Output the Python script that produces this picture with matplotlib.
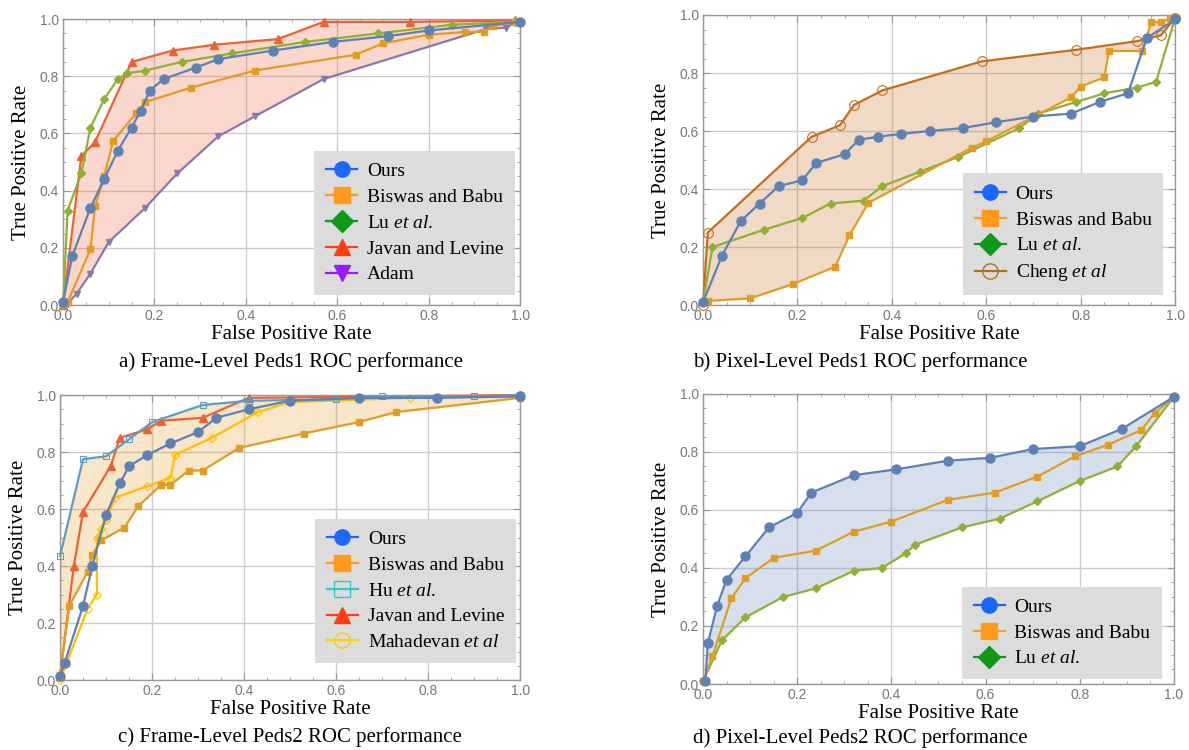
import numpy as np
import matplotlib
matplotlib.use("Agg")
import matplotlib.pyplot as plt
from matplotlib.lines import Line2D
from matplotlib.ticker import MultipleLocator, FormatStrFormatter

plt.rcParams["mathtext.fontset"] = "custom"
plt.rcParams["mathtext.rm"] = "Liberation Serif"
plt.rcParams["mathtext.it"] = "Liberation Serif:italic"

# ---- a) Frame-Level Peds1 ----
a_ours_x = [0.0, 0.02, 0.06, 0.09, 0.12, 0.15, 0.17, 0.19, 0.22, 0.29, 0.34, 0.46, 0.59, 0.71, 0.80, 1.0]
a_ours_y = [0.01, 0.17, 0.34, 0.44, 0.54, 0.62, 0.68, 0.75, 0.79, 0.83, 0.86, 0.89, 0.92, 0.94, 0.96, 0.99]
a_bis_x = [0.0, 0.01, 0.06, 0.07, 0.09, 0.11, 0.16, 0.18, 0.28, 0.42, 0.64, 0.70, 0.80, 0.88, 0.92, 0.94, 0.99]
a_bis_y = [0.01, 0.01, 0.195, 0.345, 0.45, 0.575, 0.67, 0.71, 0.76, 0.82, 0.875, 0.915, 0.945, 0.955, 0.955, 0.975, 0.99]
a_lu_x = [0.0, 0.01, 0.04, 0.06, 0.09, 0.12, 0.14, 0.18, 0.26, 0.37, 0.53, 0.69, 0.85, 0.99]
a_lu_y = [0.0, 0.33, 0.46, 0.62, 0.72, 0.79, 0.81, 0.82, 0.85, 0.88, 0.92, 0.95, 0.98, 0.99]
a_jav_x = [0.0, 0.04, 0.07, 0.15, 0.24, 0.33, 0.47, 0.57, 0.76, 0.99]
a_jav_y = [0.0, 0.52, 0.57, 0.85, 0.89, 0.91, 0.93, 0.99, 0.99, 0.995]
a_adam_x = [0.0, 0.01, 0.03, 0.06, 0.10, 0.18, 0.25, 0.34, 0.42, 0.57, 0.925, 0.97, 0.99]
a_adam_y = [0.0, 0.005, 0.04, 0.11, 0.22, 0.34, 0.46, 0.59, 0.66, 0.79, 0.965, 0.97, 0.99]

# ---- b) Pixel-Level Peds1 ----
b_ours_x = [0.0, 0.04, 0.08, 0.12, 0.16, 0.21, 0.24, 0.30, 0.33, 0.37, 0.42, 0.48, 0.55, 0.62, 0.70, 0.78, 0.84, 0.90, 0.94, 1.0]
b_ours_y = [0.01, 0.17, 0.29, 0.35, 0.41, 0.43, 0.49, 0.52, 0.57, 0.58, 0.59, 0.60, 0.61, 0.63, 0.65, 0.66, 0.70, 0.73, 0.92, 0.985]
b_bis_x = [0.0, 0.01, 0.10, 0.19, 0.28, 0.31, 0.35, 0.57, 0.60, 0.78, 0.80, 0.85, 0.86, 0.93, 0.95, 0.97, 0.99]
b_bis_y = [0.01, 0.014, 0.023, 0.072, 0.132, 0.24, 0.352, 0.543, 0.564, 0.716, 0.753, 0.785, 0.876, 0.876, 0.976, 0.976, 0.989]
b_lu_x = [0.0, 0.02, 0.13, 0.21, 0.27, 0.34, 0.38, 0.46, 0.54, 0.67, 0.71, 0.79, 0.85, 0.92, 0.96, 1.0]
b_lu_y = [0.01, 0.20, 0.26, 0.30, 0.35, 0.36, 0.41, 0.46, 0.51, 0.61, 0.66, 0.70, 0.73, 0.75, 0.77, 0.99]
b_cheng_x = [0.0, 0.01, 0.23, 0.29, 0.32, 0.38, 0.59, 0.79, 0.92, 0.97, 1.0]
b_cheng_y = [0.0, 0.25, 0.58, 0.62, 0.69, 0.74, 0.84, 0.88, 0.91, 0.93, 0.99]

# ---- c) Frame-Level Peds2 ----
c_ours_x = [0.0, 0.01, 0.05, 0.07, 0.10, 0.13, 0.15, 0.19, 0.24, 0.30, 0.34, 0.41, 0.50, 0.65, 0.82, 1.0]
c_ours_y = [0.015, 0.06, 0.26, 0.40, 0.58, 0.69, 0.75, 0.79, 0.83, 0.87, 0.92, 0.95, 0.98, 0.99, 0.99, 0.995]
c_bis_x = [0.0, 0.02, 0.06, 0.07, 0.09, 0.14, 0.17, 0.22, 0.24, 0.28, 0.31, 0.39, 0.53, 0.65, 0.73, 1.0]
c_bis_y = [0.015, 0.26, 0.38, 0.44, 0.49, 0.535, 0.61, 0.685, 0.685, 0.735, 0.735, 0.815, 0.865, 0.905, 0.94, 0.99]
c_hu_x = [0.0, 0.05, 0.10, 0.15, 0.20, 0.31, 0.41, 0.60, 0.70, 0.90, 1.0]
c_hu_y = [0.435, 0.775, 0.785, 0.845, 0.905, 0.965, 0.98, 0.985, 0.995, 0.995, 1.0]
c_jav_x = [0.0, 0.03, 0.05, 0.11, 0.13, 0.19, 0.22, 0.31, 0.41, 1.0]
c_jav_y = [0.015, 0.40, 0.59, 0.75, 0.85, 0.88, 0.91, 0.92, 0.99, 1.0]
c_mah_x = [0.0, 0.06, 0.08, 0.08, 0.09, 0.10, 0.12, 0.19, 0.24, 0.25, 0.33, 0.43, 0.50, 0.76, 1.0]
c_mah_y = [0.0, 0.25, 0.30, 0.50, 0.53, 0.56, 0.64, 0.68, 0.71, 0.79, 0.85, 0.94, 0.975, 0.99, 1.0]

# ---- d) Pixel-Level Peds2 ----
d_ours_x = [0.005, 0.01, 0.03, 0.05, 0.09, 0.14, 0.20, 0.23, 0.32, 0.41, 0.52, 0.61, 0.70, 0.80, 0.89, 1.0]
d_ours_y = [0.01, 0.14, 0.27, 0.36, 0.44, 0.54, 0.59, 0.66, 0.72, 0.74, 0.77, 0.78, 0.81, 0.82, 0.88, 0.99]
d_bis_x = [0.0, 0.02, 0.06, 0.09, 0.15, 0.24, 0.32, 0.40, 0.52, 0.62, 0.71, 0.79, 0.86, 0.93, 0.96, 1.0]
d_bis_y = [0.01, 0.095, 0.295, 0.365, 0.435, 0.46, 0.525, 0.56, 0.635, 0.66, 0.715, 0.785, 0.825, 0.875, 0.935, 0.99]
d_lu_x = [0.0, 0.04, 0.09, 0.17, 0.24, 0.32, 0.38, 0.43, 0.45, 0.55, 0.63, 0.71, 0.80, 0.88, 0.92, 1.0]
d_lu_y = [0.01, 0.15, 0.23, 0.30, 0.33, 0.39, 0.40, 0.45, 0.48, 0.54, 0.57, 0.63, 0.70, 0.75, 0.82, 0.99]

captions = ["a) Frame-Level Peds1 ROC performance", "b) Pixel-Level Peds1 ROC performance",
            "c) Frame-Level Peds2 ROC performance", "d) Pixel-Level Peds2 ROC performance"]

# line colours (plot) and bright colours (legend)
C_OURS, L_OURS = "#5e81b5", "#1a66ff"
C_BIS, L_BIS = "#e19c24", "#ff9a1a"
C_LU, L_LU = "#8fb032", "#11991a"
C_JAV, L_JAV = "#eb6235", "#ff3c12"
C_ADAM, L_ADAM = "#8778b3", "#9a1aff"
C_HU, L_HU = "#5d9ec7", "#33c8c8"
C_MAH, L_MAH = "#ffbf00", "#ffcc00"
C_CHE, L_CHE = "#c56e1a", "#a8741a"

SERIF = "Liberation Serif"

fig = plt.figure(figsize=(11.89, 7.5), dpi=100)


def make_axes(rect):
    ax = fig.add_axes(rect)
    ax.set_xlim(0, 1)
    ax.set_ylim(0, 1)
    ax.xaxis.set_major_locator(MultipleLocator(0.2))
    ax.yaxis.set_major_locator(MultipleLocator(0.2))
    ax.xaxis.set_minor_locator(MultipleLocator(0.05))
    ax.yaxis.set_minor_locator(MultipleLocator(0.05))
    ax.xaxis.set_major_formatter(FormatStrFormatter("%.1f"))
    ax.yaxis.set_major_formatter(FormatStrFormatter("%.1f"))
    ax.tick_params(which="both", direction="in", top=True, right=True, color="#999999",
                   labelcolor="#777777", labelsize=10, pad=3)
    ax.tick_params(which="major", length=5)
    ax.tick_params(which="minor", length=2.5)
    for lab in ax.get_xticklabels() + ax.get_yticklabels():
        lab.set_family("Liberation Sans")
    for s in ax.spines.values():
        s.set_color("#999999")
        s.set_linewidth(1)
    ax.grid(True, color="#cccccc", lw=1)
    ax.set_axisbelow(True)
    ax.set_xlabel("False Positive Rate", family=SERIF, fontsize=15, labelpad=1)
    ax.set_ylabel("True Positive Rate", family=SERIF, fontsize=15, labelpad=6)
    return ax


def curve(ax, x, y, color, marker, ms, open_marker=False):
    mfc = "none" if open_marker else color
    ax.plot(x, y, color=color, lw=1.6, marker=marker, markersize=ms, mfc=mfc,
            mec=color, mew=0.8 if open_marker else 1, clip_on=False, zorder=3)


def band(ax, xt, yt, xb, yb, color):
    ax.fill(np.concatenate([xt, xb[::-1]]), np.concatenate([yt, yb[::-1]]),
            color=color, alpha=0.25, lw=0, zorder=2)


def legend(ax, entries, anchor):
    handles = [Line2D([], [], color=c, marker=m, markersize=11, lw=1.6,
                      mfc="none" if op else c, mec=c, mew=1)
               for c, m, op, _ in entries]
    labels = [t for _, _, _, t in entries]
    lg = ax.legend(handles, labels, loc="lower right", bbox_to_anchor=anchor,
                   borderaxespad=0, frameon=True, fancybox=False, framealpha=1,
                   facecolor="#dcdcdc", edgecolor="none", handlelength=1.6,
                   handletextpad=0.5, labelspacing=0.42, borderpad=0.6,
                   prop={"family": SERIF, "size": 14})
    lg.set_zorder(5)


# a
ax = make_axes([0.053, 0.5933, 0.3844, 0.3813])
band(ax, a_jav_x, a_jav_y, a_adam_x, a_adam_y, C_JAV)
curve(ax, a_adam_x, a_adam_y, C_ADAM, "v", 5)
curve(ax, a_jav_x, a_jav_y, C_JAV, "^", 5.5)
curve(ax, a_lu_x, a_lu_y, C_LU, "D", 4)
curve(ax, a_bis_x, a_bis_y, C_BIS, "s", 4.5)
curve(ax, a_ours_x, a_ours_y, C_OURS, "o", 6.5)
legend(ax, [(L_OURS, "o", False, "Ours"), (L_BIS, "s", False, "Biswas and Babu"),
            (L_LU, "D", False, "Lu $\\it{et\\ al.}$"), (L_JAV, "^", False, "Javan and Levine"),
            (L_ADAM, "v", False, "Adam")], (0.989, 0.035))

# b
ax = make_axes([0.5913, 0.5933, 0.397, 0.3867])
band(ax, b_cheng_x, b_cheng_y, b_bis_x, b_bis_y, C_CHE)
curve(ax, b_cheng_x, b_cheng_y, C_CHE, "o", 7, open_marker=True)
curve(ax, b_lu_x, b_lu_y, C_LU, "D", 4)
curve(ax, b_bis_x, b_bis_y, C_BIS, "s", 4.5)
curve(ax, b_ours_x, b_ours_y, C_OURS, "o", 6.5)
legend(ax, [(L_OURS, "o", False, "Ours"), (L_BIS, "s", False, "Biswas and Babu"),
            (L_LU, "D", False, "Lu $\\it{et\\ al.}$"), (L_CHE, "o", True, "Cheng $\\it{et\\ al}$")],
       (0.975, 0.034))

# c
ax = make_axes([0.0505, 0.0933, 0.3869, 0.38])
band(ax, c_hu_x, c_hu_y, c_bis_x, c_bis_y, C_BIS)
curve(ax, c_mah_x, c_mah_y, C_MAH, "D", 4, open_marker=True)
curve(ax, c_jav_x, c_jav_y, C_JAV, "^", 5.5)
curve(ax, c_hu_x, c_hu_y, C_HU, "s", 5, open_marker=True)
curve(ax, c_bis_x, c_bis_y, C_BIS, "s", 4.5)
curve(ax, c_ours_x, c_ours_y, C_OURS, "o", 6.5)
legend(ax, [(L_OURS, "o", False, "Ours"), (L_BIS, "s", False, "Biswas and Babu"),
            (L_HU, "s", True, "Hu $\\it{et\\ al.}$"), (L_JAV, "^", False, "Javan and Levine"),
            (L_MAH, "o", True, "Mahadevan $\\it{et\\ al}$")], (0.991, 0.06))

# d
ax = make_axes([0.5913, 0.088, 0.396, 0.3867])
band(ax, d_ours_x, d_ours_y, d_lu_x, d_lu_y, C_OURS)
curve(ax, d_lu_x, d_lu_y, C_LU, "D", 4)
curve(ax, d_bis_x, d_bis_y, C_BIS, "s", 4.5)
curve(ax, d_ours_x, d_ours_y, C_OURS, "o", 6.5)
legend(ax, [(L_OURS, "o", False, "Ours"), (L_BIS, "s", False, "Biswas and Babu"),
            (L_LU, "D", False, "Lu $\\it{et\\ al.}$")], (0.975, 0.017))

cap_pos = [(291 / 1189, 1 - 362 / 750), (860 / 1189, 1 - 362 / 750),
           (290 / 1189, 1 - 737 / 750), (860 / 1189, 1 - 738 / 750)]
for (cx, cy), txt in zip(cap_pos, captions):
    fig.text(cx, cy, txt, ha="center", va="center", family=SERIF, fontsize=15)

fig.savefig("out.png", dpi=100)
